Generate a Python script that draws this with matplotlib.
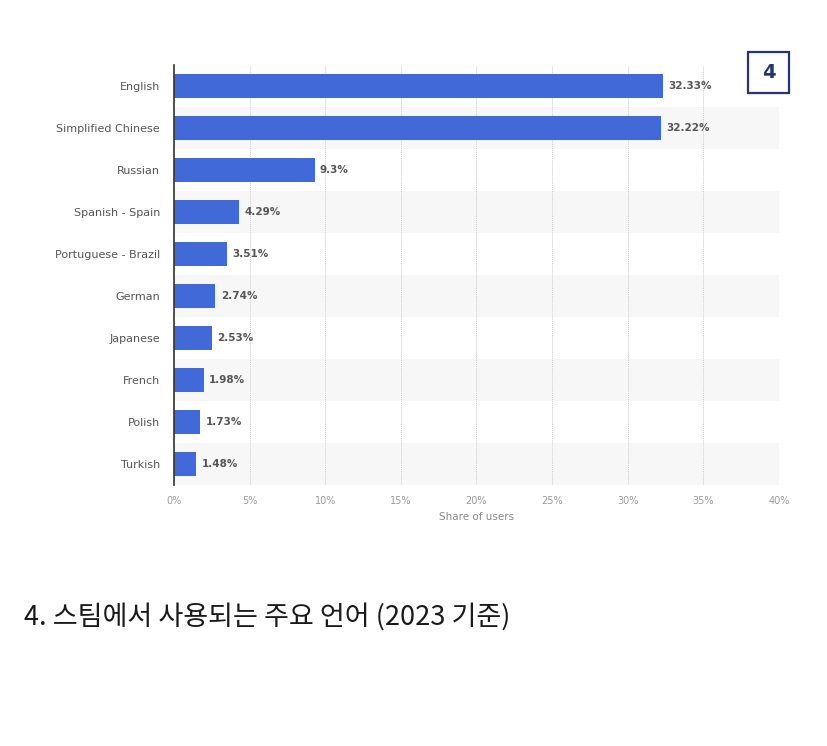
import matplotlib.pyplot as plt
from matplotlib.patches import Rectangle

plt.rcParams['font.family'] = ['Noto Sans CJK KR', 'DejaVu Sans']

languages = ["English", "Simplified Chinese", "Russian", "Spanish - Spain",
             "Portuguese - Brazil", "German", "Japanese", "French", "Polish", "Turkish"]
shares = [32.33, 32.22, 9.3, 4.29, 3.51, 2.74, 2.53, 1.98, 1.73, 1.48]
value_labels = ["32.33%", "32.22%", "9.3%", "4.29%", "3.51%", "2.74%", "2.53%", "1.98%", "1.73%", "1.48%"]
xticks = [0, 5, 10, 15, 20, 25, 30, 35, 40]
xtick_labels = ["0%", "5%", "10%", "15%", "20%", "25%", "30%", "35%", "40%"]
title = "4. 스팀에서 사용되는 주요 언어 (2023 기준)"

fig = plt.figure(figsize=(8.28, 7.46), dpi=100)
ax = fig.add_axes([0.2101, 0.3499, 0.7307, 0.5630])

ypos = list(range(len(languages)))
for i in ypos:
    if i % 2 == 1:
        ax.axhspan(i - 0.5, i + 0.5, color="#f7f7f7", zorder=0, lw=0)

ax.barh(ypos, shares, height=0.56, color="#4169d8", zorder=3)
for y, v, lab in zip(ypos, shares, value_labels):
    ax.text(v + 0.35, y, lab, va="center", ha="left", fontsize=7.5,
            fontweight="bold", color="#555555", family="DejaVu Sans", zorder=4)

ax.set_xlim(0, 40)
ax.set_ylim(len(languages) - 0.5, -0.5)
ax.set_yticks(ypos)
ax.set_yticklabels(languages, fontsize=8, color="#555555", family="DejaVu Sans")
ax.set_xticks(xticks)
ax.set_xticklabels(xtick_labels, fontsize=7, color="#999999", family="DejaVu Sans")
ax.set_xlabel("Share of users", fontsize=7.5, color="#888888", family="DejaVu Sans", labelpad=4)
ax.tick_params(length=0, pad=10)
ax.tick_params(axis="x", pad=8)
ax.grid(axis="x", color="#cccccc", linestyle=(0, (1, 1)), linewidth=0.7, zorder=1)
for side in ["top", "right", "bottom"]:
    ax.spines[side].set_visible(False)
ax.spines["left"].set_color("#333333")
ax.spines["left"].set_linewidth(1.2)
ax.spines["left"].set_zorder(5)

# number badge top right
fig.patches.append(Rectangle((748 / 828, 1 - 93 / 746), 41 / 828, 41 / 746,
                             transform=fig.transFigure, fill=False,
                             edgecolor="#25337a", linewidth=1.6))
fig.text(768.5 / 828, 1 - 72.5 / 746, "4", ha="center", va="center",
         fontsize=14, fontweight="bold", color="#25337a", family="DejaVu Sans")

fig.text(24 / 828, 1 - 617 / 746, title, ha="left", va="center", fontsize=19.5, color="#1a1a1a")

fig.savefig("out.png", dpi=100)
